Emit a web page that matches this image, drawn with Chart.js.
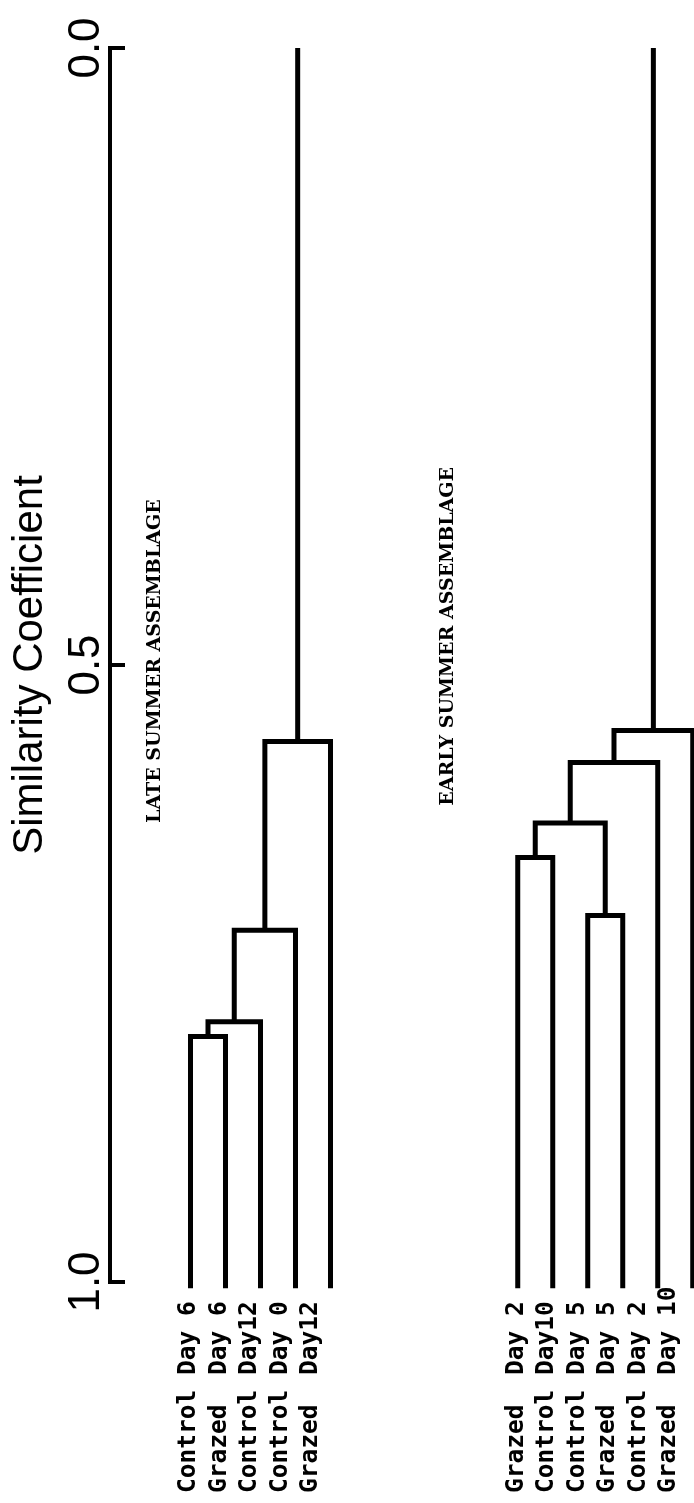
<!DOCTYPE html>
<html>
<head>
<meta charset="utf-8">
<script src="https://cdn.jsdelivr.net/npm/chart.js@4/dist/chart.umd.min.js"></script>
<style>
  html, body { margin: 0; padding: 0; background: #fff; }
</style>
</head>
<body>
<canvas id="dendro" width="694" height="1503"></canvas>
<script>
// leaves, left to right as they sit along the bottom
var lateLabels = ['Control Day 6', 'Grazed  Day 6', 'Control Day12', 'Control Day 0', 'Grazed  Day12'];
var earlyLabels = ['Grazed  Day 2', 'Control Day10', 'Control Day 5', 'Grazed  Day 5', 'Control Day 2', 'Grazed  Day 10'];

// joins: [node a, node b, similarity coefficient]
// nodes 0..n-1 are the leaves, every join makes the next node number
var lateMerges = [[0, 1, 0.801], [5, 2, 0.789], [6, 3, 0.715], [7, 4, 0.562]];
var earlyMerges = [[0, 1, 0.656], [2, 3, 0.703], [6, 7, 0.628], [8, 4, 0.579], [9, 5, 0.553]];

var yTicks = [0, 0.5, 1];
var yTickLabels = ['0.0', '0.5', '1.0'];
var groupTitles = ['LATE SUMMER ASSEMBLAGE', 'EARLY SUMMER ASSEMBLAGE'];

// layout along x (in leaf units)
var LATE_OFFSET = 2.3;
var EARLY_OFFSET = 11.65;
var LEAF_BASE = 1.005;
var LABEL_PITCH = 30.5;

function buildTree(labels, merges, offset) {
    var xs = labels.map(function(l, i) { return offset + i; });
    var hs = labels.map(function() { return LEAF_BASE; });
    var sets = [];
    merges.forEach(function(m) {
        var a = m[0], b = m[1], h = m[2];
        sets.push([
            {x: xs[a], y: hs[a]}, {x: xs[a], y: h},
            {x: xs[b], y: h}, {x: xs[b], y: hs[b]}
        ]);
        xs.push((xs[a] + xs[b]) / 2);
        hs.push(h);
    });
    var root = xs.length - 1;
    sets.push([{x: xs[root], y: hs[root]}, {x: xs[root], y: 0}]);
    return sets;
}

var lines = buildTree(lateLabels, lateMerges, LATE_OFFSET)
    .concat(buildTree(earlyLabels, earlyMerges, EARLY_OFFSET));

var datasets = lines.map(function(pts) {
    return {
        data: pts,
        showLine: true,
        borderColor: '#000',
        borderWidth: 5,
        borderJoinStyle: 'miter',
        borderCapStyle: 'butt',
        pointRadius: 0,
        tension: 0,
        clip: false
    };
});

var textPlugin = {
    id: 'texts',
    afterDraw: function(chart) {
        var ctx = chart.ctx;
        var xs = chart.scales.x, ys = chart.scales.y;
        ctx.save();
        ctx.fillStyle = '#000';

        function rotText(str, x, y, align, base) {
            ctx.save();
            ctx.translate(x, y);
            ctx.rotate(-Math.PI / 2);
            ctx.textAlign = align;
            ctx.textBaseline = base;
            ctx.fillText(str, 0, 0);
            ctx.restore();
        }

        // axis tick labels
        ctx.font = '44px "Liberation Sans", Arial, sans-serif';
        yTicks.forEach(function(v, i) {
            rotText(yTickLabels[i], ys.left + 87, ys.getPixelForValue(v), 'center', 'middle');
        });

        // leaf names, typed at a fixed pitch from each group's first leaf
        ctx.font = 'bold 24.5px "DejaVu Sans Mono", monospace';
        var labelY = chart.chartArea.bottom + 211;
        [[lateLabels, LATE_OFFSET], [earlyLabels, EARLY_OFFSET]].forEach(function(g) {
            var x0 = xs.getPixelForValue(g[1]) + 5;
            g[0].forEach(function(lbl, i) {
                rotText(lbl, x0 + i * LABEL_PITCH, labelY, 'left', 'alphabetic');
            });
        });

        // group titles
        ctx.font = 'bold 19px "DejaVu Serif", serif';
        rotText(groupTitles[0], xs.getPixelForValue(1.43), ys.getPixelForValue(0.628), 'left', 'alphabetic');
        rotText(groupTitles[1], xs.getPixelForValue(9.8), ys.getPixelForValue(0.614), 'left', 'alphabetic');

        ctx.restore();
    }
};

var ctx = document.getElementById('dendro').getContext('2d');
var chart = new Chart(ctx, {
    type: 'scatter',
    data: { datasets: datasets },
    options: {
        responsive: false,
        animation: false,
        devicePixelRatio: 1,
        events: [],
        layout: { padding: { top: 48, bottom: 221, left: 0, right: 0 } },
        plugins: {
            legend: { display: false },
            tooltip: { enabled: false }
        },
        scales: {
            x: { type: 'linear', display: false, min: 0, max: 16.686 },
            y: {
                type: 'linear',
                reverse: true,
                min: 0,
                max: 1,
                afterBuildTicks: function(s) {
                    s.ticks = yTicks.map(function(v) { return {value: v}; });
                },
                afterFit: function(s) { s.width = 110; },
                ticks: { display: false },
                grid: {
                    drawOnChartArea: false,
                    drawTicks: true,
                    tickLength: -15,
                    color: '#000',
                    lineWidth: 4
                },
                border: { display: true, color: '#000', width: 4 },
                title: {
                    display: true,
                    text: 'Similarity Coefficient',
                    color: '#000',
                    font: { family: 'Liberation Sans', size: 42 },
                    padding: { top: 5, bottom: 0 }
                }
            }
        }
    },
    plugins: [textPlugin]
});
</script>
</body>
</html>
